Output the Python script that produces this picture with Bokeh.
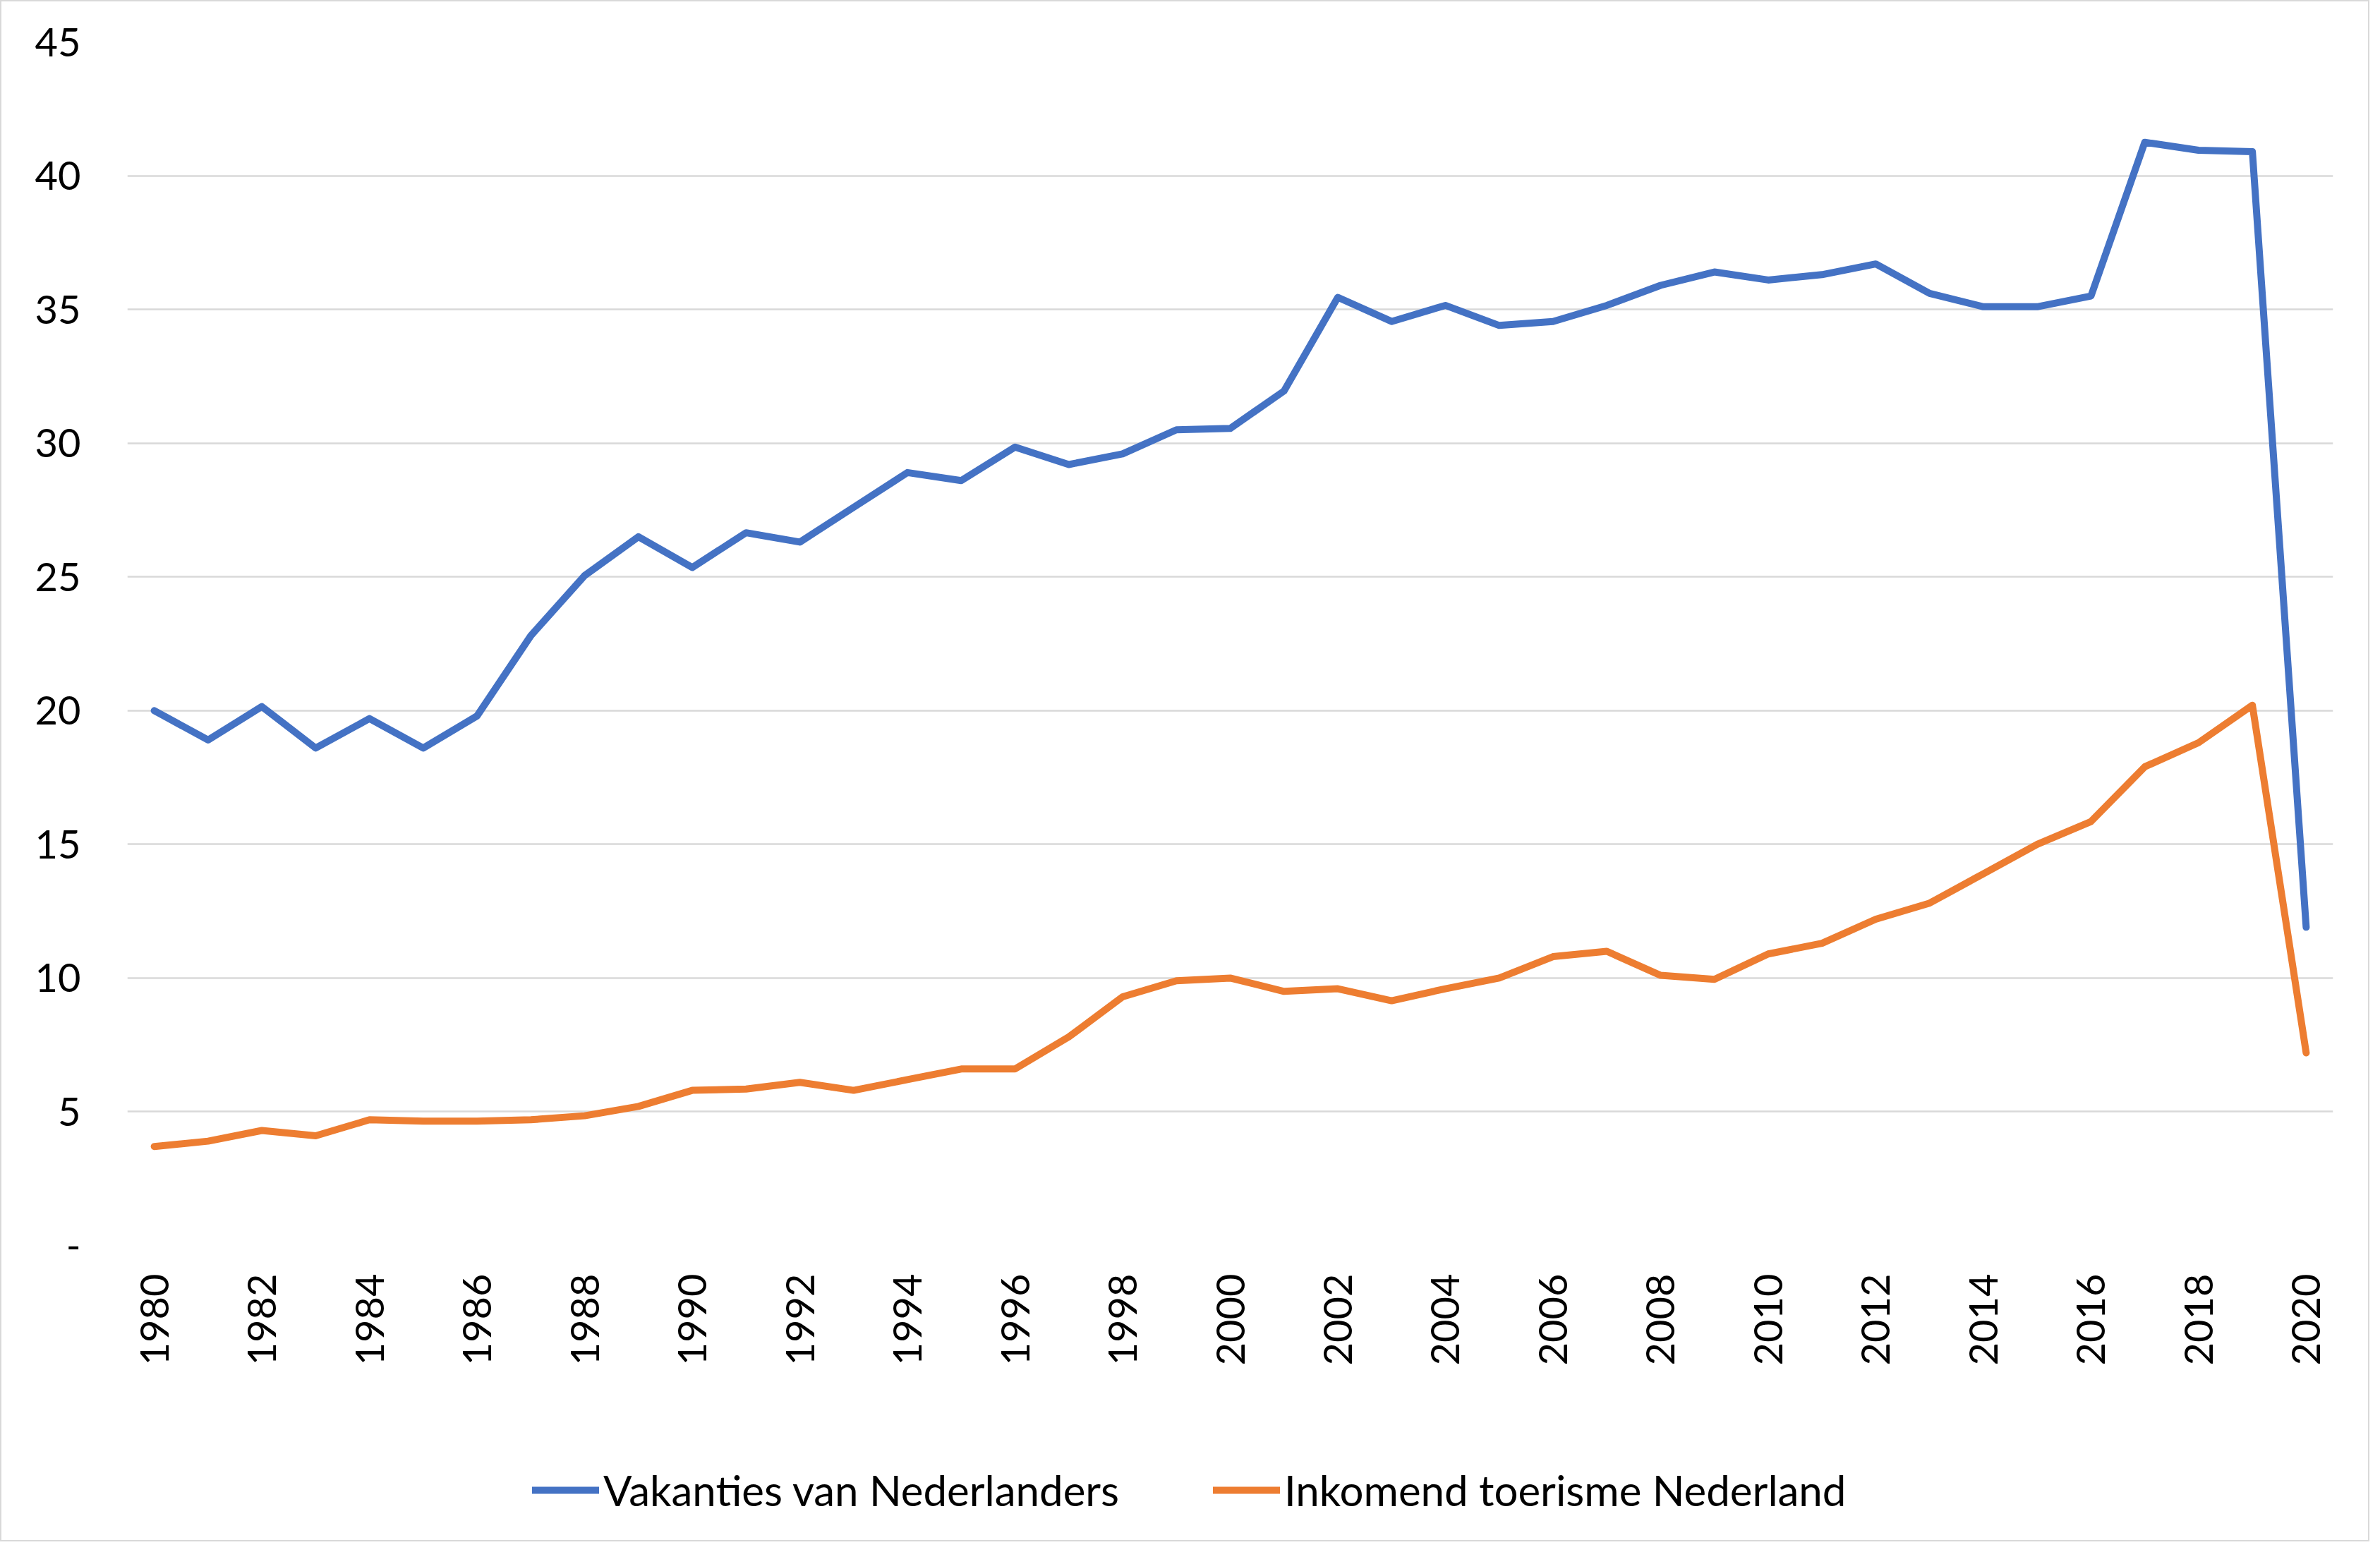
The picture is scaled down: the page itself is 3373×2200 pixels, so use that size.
from bokeh.plotting import figure
from bokeh.models import Legend, LegendItem, FixedTicker
from bokeh.layouts import column
from bokeh.embed import file_html
from bokeh.resources import INLINE

years = list(range(1980, 2021))

vakanties = [20.0, 18.9, 20.15, 18.6, 19.7, 18.6, 19.8, 22.8, 25.05, 26.5,
             25.35, 26.65, 26.3, 27.6, 28.9, 28.6, 29.85, 29.2, 29.6, 30.5,
             30.55, 31.95, 35.45, 34.55, 35.15, 34.4, 34.55, 35.15, 35.9, 36.4,
             36.1, 36.3, 36.7, 35.6, 35.1, 35.1, 35.5, 41.25, 40.95, 40.9,
             11.9]

inkomend = [3.7, 3.9, 4.3, 4.1, 4.7, 4.65, 4.65, 4.7, 4.85, 5.2,
            5.8, 5.85, 6.1, 5.8, 6.2, 6.6, 6.6, 7.8, 9.3, 9.9,
            10.0, 9.5, 9.6, 9.15, 9.6, 10.0, 10.8, 11.0, 10.1, 9.95,
            10.9, 11.3, 12.2, 12.8, 13.9, 15.0, 15.85, 17.9, 18.8, 20.2,
            7.2]

y_ticks = [0, 5, 10, 15, 20, 25, 30, 35, 40, 45]
x_ticks = years[::2]
series_names = ["Vakanties van Nederlanders", "Inkomend toerisme Nederland"]
series_colors = ["#4472C4", "#ED7D31"]

FONT = "Lato"
FS = "56px"
W = 3354
H_MAIN = 1990
H_LEG = 191

p = figure(width=W, height=H_MAIN,
           x_range=(1979.5, 2020.5), y_range=(0, 45),
           output_backend="svg", toolbar_location=None,
           min_border_left=178, min_border_right=50,
           min_border_top=57, min_border_bottom=H_MAIN - 1763)
p.outline_line_color = None
p.background_fill_color = "white"
p.border_fill_color = "white"

p.xgrid.grid_line_color = None
p.ygrid.grid_line_color = "#d9d9d9"
p.ygrid.grid_line_width = 2.5

p.xaxis.ticker = FixedTicker(ticks=x_ticks)
p.yaxis.ticker = FixedTicker(ticks=y_ticks)
p.yaxis.major_label_overrides = {0: "-"}
for ax in (p.xaxis, p.yaxis):
    ax.axis_line_color = None
    ax.major_tick_line_color = None
    ax.minor_tick_line_color = None
    ax.major_tick_out = 0
    ax.major_tick_in = 0
    ax.major_label_text_font = FONT
    ax.major_label_text_font_size = FS
    ax.major_label_text_color = "#000000"
p.xaxis.major_label_orientation = 1.5707963267948966
p.xaxis.major_label_standoff = 40
p.yaxis.major_label_standoff = 66

p.line(years, vakanties, line_color=series_colors[0], line_width=10,
       line_join="round", line_cap="round")
p.line(years, inkomend, line_color=series_colors[1], line_width=10,
       line_join="round", line_cap="round")

# legend strip below the chart (its frame is aligned with the chart's frame)
q = figure(width=W, height=H_LEG, x_range=(0, W), y_range=(0, H_LEG),
           output_backend="svg", toolbar_location=None,
           min_border=0, min_border_left=0, min_border_right=0,
           min_border_top=0, min_border_bottom=0)
q.xaxis.visible = False
q.yaxis.visible = False
q.grid.visible = False
q.outline_line_color = None
q.background_fill_color = "white"
q.border_fill_color = "white"
nan = float("nan")
l1 = q.line([nan, nan], [nan, nan], line_color=series_colors[0], line_width=10, line_cap="round")
l2 = q.line([nan, nan], [nan, nan], line_color=series_colors[1], line_width=10, line_cap="round")

legend = Legend(items=[LegendItem(label=series_names[0], renderers=[l1]),
                       LegendItem(label=series_names[1], renderers=[l2])],
                orientation="horizontal",
                location=(574, 35),
                padding=0, margin=0, spacing=133,
                label_standoff=6, glyph_width=95, glyph_height=70,
                label_height=70,
                label_text_font=FONT, label_text_font_size="60px",
                label_text_color="#000000",
                background_fill_alpha=0, border_line_alpha=0)
q.add_layout(legend, "center")

layout = column(p, q, spacing=0)
layout.styles = {"border": "2px solid #d9d9d9"}

open("out.html", "w").write(file_html(layout, INLINE))
